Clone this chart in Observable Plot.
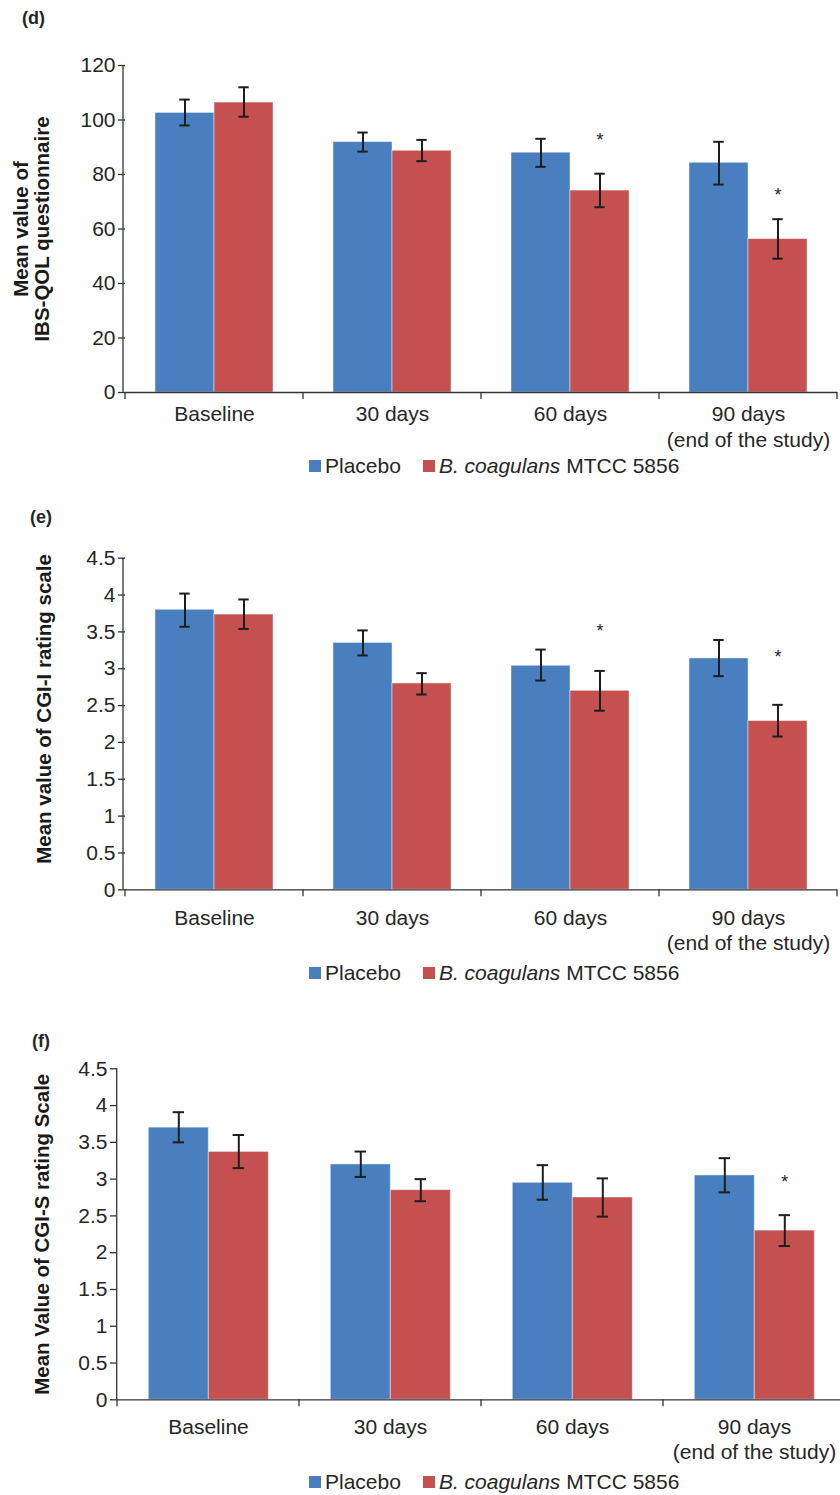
<!DOCTYPE html>
<html>
<head>
<meta charset="utf-8">
<script src="https://cdn.jsdelivr.net/npm/d3@7"></script>
<script src="https://cdn.jsdelivr.net/npm/@observablehq/plot@0.6"></script>
<style>
html,body{margin:0;padding:0;background:#fff;}
#root{position:relative;width:840px;height:1495px;overflow:hidden;font-family:"Liberation Sans",Arial,Helvetica,sans-serif;color:#262626;}
.panel-label{position:absolute;font-weight:bold;font-size:18px;line-height:18px;}
.legend{position:absolute;left:309px;display:flex;align-items:center;font-size:21px;line-height:21px;white-space:nowrap;}
.sw{display:inline-block;width:12px;height:12px;margin-right:4px;}
.item{display:inline-flex;align-items:center;margin-right:22px;}
.plot{position:absolute;left:0;}
</style>
</head>
<body>
<div id="root"></div>
<script>
// ---------- data ----------
const categories = ["Baseline", "30 days", "60 days", "90 days"];
const categoryLabels = ["Baseline", "30 days", "60 days", "90 days\n(end of the study)"];
const series = ["Placebo", "B. coagulans MTCC 5856"];
const colors = ["#4A7FBF", "#C4504F"];

// (d) IBS-QOL
const qolTicks = [0, 20, 40, 60, 80, 100, 120];
const qolPlacebo = [102.6, 91.9, 88.0, 84.3];
const qolPlaceboLo = [98.0, 88.4, 82.8, 76.3];
const qolPlaceboHi = [107.5, 95.4, 93.1, 92.0];
const qolProbiotic = [106.4, 88.7, 74.1, 56.3];
const qolProbioticLo = [101.2, 84.9, 68.0, 49.1];
const qolProbioticHi = [112.0, 92.7, 80.3, 63.6];
const qolStars = [null, null, 95.3, 74.8];

// (e) CGI-I
const cgiTicks = [0, 0.5, 1, 1.5, 2, 2.5, 3, 3.5, 4, 4.5];
const cgiiPlacebo = [3.80, 3.35, 3.04, 3.14];
const cgiiPlaceboLo = [3.57, 3.18, 2.84, 2.90];
const cgiiPlaceboHi = [4.02, 3.52, 3.26, 3.39];
const cgiiProbiotic = [3.735, 2.80, 2.70, 2.29];
const cgiiProbioticLo = [3.54, 2.65, 2.43, 2.08];
const cgiiProbioticHi = [3.94, 2.94, 2.97, 2.51];
const cgiiStars = [null, null, 3.61, 3.25];

// (f) CGI-S
const cgisPlacebo = [3.70, 3.20, 2.95, 3.05];
const cgisPlaceboLo = [3.50, 3.03, 2.72, 2.82];
const cgisPlaceboHi = [3.91, 3.375, 3.19, 3.285];
const cgisProbiotic = [3.37, 2.85, 2.75, 2.30];
const cgisProbioticLo = [3.15, 2.70, 2.49, 2.09];
const cgisProbioticHi = [3.60, 3.00, 3.01, 2.51];
const cgisStars = [null, null, null, 3.06];

// ---------- layout ----------
const panels = [
  {label: "(d)", labelTop: 9, labelLeft: 22, top: 0, marginTop: 65, innerHeight: 327, marginLeft: 123, marginRight: 2,
   ylabel: "Mean value of\nIBS-QOL questionnaire", ylabelDx: -94, ylabelDy: 0,
   domain: [0, 120], ticks: qolTicks, xPad: 11, legendTop: 455,
   p: qolPlacebo, pLo: qolPlaceboLo, pHi: qolPlaceboHi, b: qolProbiotic, bLo: qolProbioticLo, bHi: qolProbioticHi, stars: qolStars},
  {label: "(e)", labelTop: 508, labelLeft: 30, top: 500, marginTop: 57.7, innerHeight: 331.6, marginLeft: 123, marginRight: 1.3,
   ylabel: "Mean value of CGI-I rating scale", ylabelDx: -81.3, ylabelDy: -15,
   domain: [0, 4.5], ticks: cgiTicks, xPad: 17.5, legendTop: 962,
   p: cgiiPlacebo, pLo: cgiiPlaceboLo, pHi: cgiiPlaceboHi, b: cgiiProbiotic, bLo: cgiiProbioticLo, bHi: cgiiProbioticHi, stars: cgiiStars},
  {label: "(f)", labelTop: 1032, labelLeft: 32, top: 1010, marginTop: 58.3, innerHeight: 331, marginLeft: 116.7, marginRight: -5.9,
   ylabel: "Mean Value of CGI-S rating Scale", ylabelDx: -75.2, ylabelDy: 0,
   domain: [0, 4.5], ticks: cgiTicks, xPad: 16, legendTop: 1471,
   p: cgisPlacebo, pLo: cgisPlaceboLo, pHi: cgisPlaceboHi, b: cgisProbiotic, bLo: cgisProbioticLo, bHi: cgisProbioticHi, stars: cgisStars}
];

const root = document.getElementById("root");
const FONT = '"Liberation Sans", Arial, Helvetica, sans-serif';
const INK = "#1e1e1e";
const TEXT = "#262626";

function drawPanel(cfg) {
  const rows = [];
  categories.forEach((c, i) => {
    rows.push({cat: c, series: series[0], value: cfg.p[i], lo: cfg.pLo[i], hi: cfg.pHi[i], star: null});
    rows.push({cat: c, series: series[1], value: cfg.b[i], lo: cfg.bLo[i], hi: cfg.bHi[i], star: cfg.stars[i]});
  });
  const marginBottom = 60;
  const height = cfg.marginTop + cfg.innerHeight + marginBottom;
  const plot = Plot.plot({
    width: 840,
    height,
    marginTop: cfg.marginTop,
    marginBottom,
    marginLeft: cfg.marginLeft,
    marginRight: cfg.marginRight,
    style: {fontFamily: FONT, fontSize: "21px", color: TEXT, background: "transparent", overflow: "visible"},
    fx: {domain: categories, padding: 0, axis: null},
    x: {domain: series, paddingInner: 0, paddingOuter: 0.5, axis: null},
    y: {domain: cfg.domain, axis: null},
    color: {domain: series, range: colors},
    marks: [
      Plot.barY(rows, {fx: "cat", x: "series", y: "value", fill: "series", stroke: "#ffffff", strokeOpacity: 0.45, strokeWidth: 1}),
      Plot.ruleX(rows, {fx: "cat", x: "series", y1: "lo", y2: "hi", stroke: INK, strokeWidth: 2}),
      Plot.tickY(rows, {fx: "cat", x: "series", y: "hi", stroke: INK, strokeWidth: 2, inset: 24.3}),
      Plot.tickY(rows, {fx: "cat", x: "series", y: "lo", stroke: INK, strokeWidth: 2, inset: 24.3}),
      Plot.text(rows.filter(d => d.star != null), {fx: "cat", x: "series", y: "star", text: () => "*", fontSize: 18, lineAnchor: "top", fill: TEXT}),
      Plot.ruleY([0], {stroke: "#333", strokeWidth: 1.3}),
      Plot.axisY({ticks: cfg.ticks, tickFormat: d => String(d), tickSize: 7, tickPadding: 3, fontSize: 21, label: null, stroke: "#333", strokeWidth: 1.3}),
      Plot.text(categories, {fx: d => d, text: (d, i) => categoryLabels[i], frameAnchor: "bottom", lineAnchor: "top", dy: cfg.xPad, fontSize: 21, lineHeight: 1.2, fill: TEXT}),
      Plot.text([categories[0]], {fx: d => d, text: () => cfg.ylabel, frameAnchor: "left", rotate: -90, dx: cfg.ylabelDx, dy: cfg.ylabelDy,
        fontWeight: "bold", fontSize: 20.5, lineHeight: 1.02, textAnchor: "middle", lineAnchor: "middle", fill: "#1a1a1a"})
    ]
  });

  // axis line and category boundary ticks, drawn from Plot's own scales
  const fx = plot.scale("fx");
  const y = plot.scale("y");
  const y0 = y.apply(cfg.domain[0]);
  const y1 = y.apply(cfg.domain[1]);
  const svg = d3.select(plot);
  const g = svg.append("g").attr("stroke", "#333").attr("stroke-width", 1.3);
  g.append("line").attr("x1", cfg.marginLeft).attr("x2", cfg.marginLeft).attr("y1", y1).attr("y2", y0);
  const edges = categories.map(c => fx.apply(c)).concat([fx.apply(categories[categories.length - 1]) + fx.bandwidth]);
  edges.forEach(x => g.append("line").attr("x1", x).attr("x2", x).attr("y1", y0).attr("y2", y0 + 7));

  plot.classList.add("plot");
  plot.style.top = cfg.top + "px";
  root.appendChild(plot);

  const lab = document.createElement("div");
  lab.className = "panel-label";
  lab.textContent = cfg.label;
  lab.style.top = cfg.labelTop + "px";
  lab.style.left = cfg.labelLeft + "px";
  root.appendChild(lab);

  const leg = document.createElement("div");
  leg.className = "legend";
  leg.style.top = cfg.legendTop + "px";
  leg.innerHTML =
    `<span class="item"><span class="sw" style="background:${colors[0]}"></span>${series[0]}</span>` +
    `<span class="item"><span class="sw" style="background:${colors[1]}"></span><i>B. coagulans</i>&nbsp;MTCC 5856</span>`;
  root.appendChild(leg);
}

panels.forEach(drawPanel);
</script>
</body>
</html>
